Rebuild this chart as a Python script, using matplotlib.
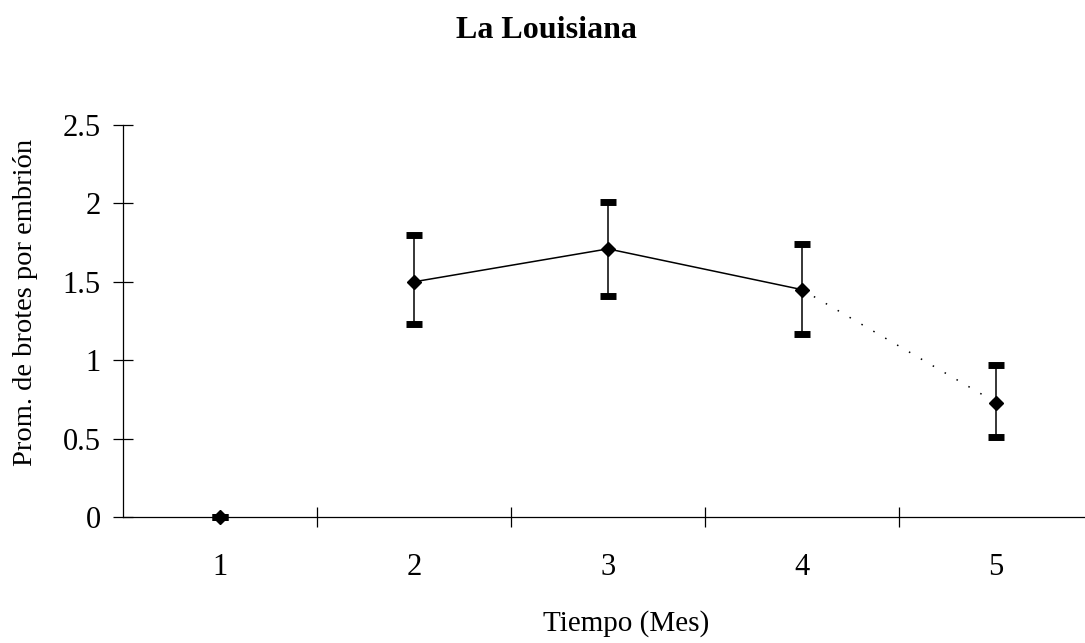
import matplotlib
matplotlib.use("Agg")
import matplotlib.pyplot as plt
import numpy as np

plt.rcParams['font.family'] = ['Liberation Serif', 'DejaVu Serif']

# Data
months = [1, 2, 3, 4, 5]
mean = [0.0, 1.50, 1.71, 1.45, 0.73]
lower = [0.0, 1.23, 1.41, 1.17, 0.51]
upper = [0.0, 1.80, 2.01, 1.74, 0.97]
y_ticks = [0, 0.5, 1, 1.5, 2, 2.5]
y_tick_labels = ["0", "0.5", "1", "1.5", "2", "2.5"]
x_tick_labels = ["1", "2", "3", "4", "5"]
title = "La Louisiana"
xlabel = "Tiempo (Mes)"
ylabel = "Prom. de brotes por embrión"

W, H = 1085, 643
fig = plt.figure(figsize=(W / 100, H / 100), dpi=100)
ax = fig.add_axes([123 / W, 1 - 517 / H, 962 / W, 392 / H])

m = np.array(mean)
lo = m - np.array(lower)
hi = np.array(upper) - m

# connecting line: solid for months 2-4, faint dotted 4-5
ax.plot(months[1:4], mean[1:4], color='black', lw=1.1, zorder=2)
ax.plot(months[3:5], mean[3:5], color='black', lw=1.1,
        linestyle=(0, (1, 8)), zorder=2)

ax.errorbar(months, mean, yerr=[lo, hi], fmt='D', color='black',
            markersize=7, elinewidth=1.1, capsize=5.5, capthick=5,
            clip_on=False, zorder=3)

ax.set_xlim(0.5, 0.5 + 962 / 194)
ax.set_ylim(0, 2.5)

for s in ['top', 'right']:
    ax.spines[s].set_visible(False)
for s in ['left', 'bottom']:
    ax.spines[s].set_linewidth(0.9)
    ax.spines[s].set_color('black')

ax.set_yticks(y_ticks)
ax.set_yticklabels(y_tick_labels)
ax.tick_params(axis='y', direction='inout', length=14, width=0.9,
               pad=9, labelsize=22)

ax.set_xticks(months)
ax.set_xticklabels(x_tick_labels)
ax.set_xticks([1.5, 2.5, 3.5, 4.5], minor=True)
ax.tick_params(axis='x', which='major', length=0, pad=26, labelsize=22)
ax.tick_params(axis='x', which='minor', direction='inout', length=14,
               width=0.9)

ax.set_xlabel(xlabel, fontsize=21)
ax.xaxis.set_label_coords((626 - 123) / 962, (517 - 631) / 392)
ax.xaxis.label.set_va('baseline')

ax.set_ylabel(ylabel, fontsize=20.5)
ax.yaxis.set_label_coords((26 - 123) / 962, (517 - 302) / 392)
ax.yaxis.label.set_va('center')

fig.text(546 / W, 1 - 38 / H, title, ha='center', va='baseline',
         fontsize=23, fontweight='bold')

fig.savefig("out.png", dpi=100)
